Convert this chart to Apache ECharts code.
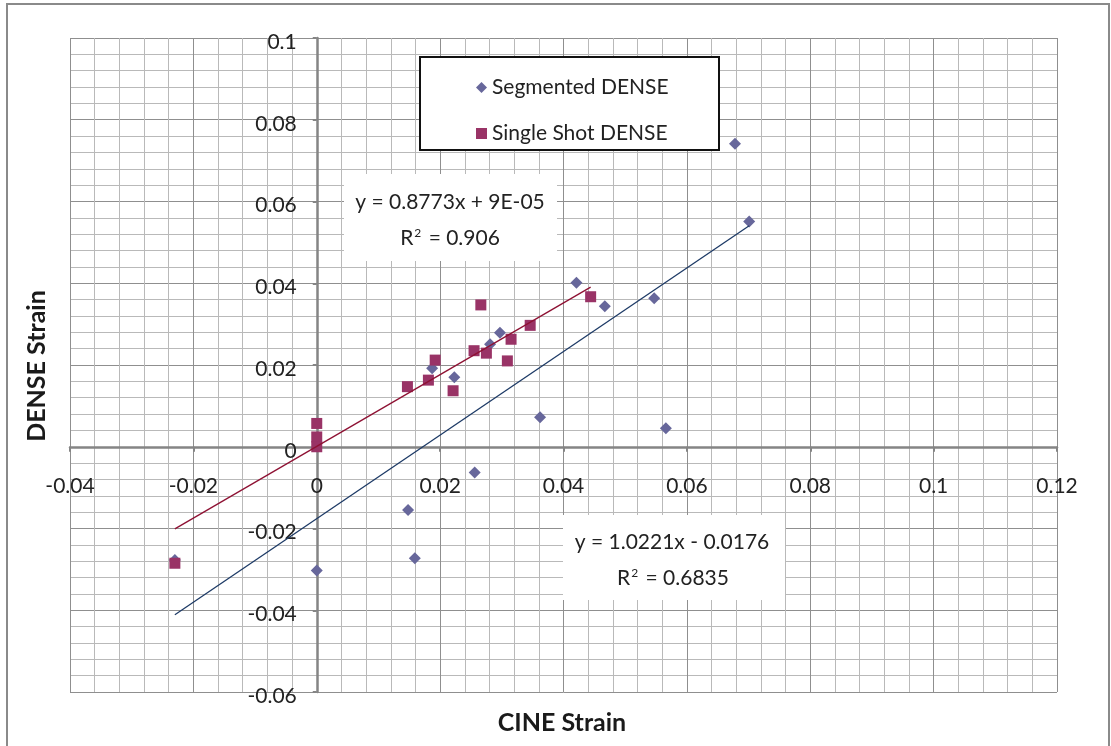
<!DOCTYPE html>
<html>
<head>
<meta charset="utf-8">
<script src="https://cdn.jsdelivr.net/npm/echarts@6/dist/echarts.min.js"></script>
<style>
  html, body { margin: 0; padding: 0; background: #ffffff; }
  #chart { width: 1111px; height: 746px; }
</style>
</head>
<body>
<div id="chart"></div>
<script>
// CINE strain (x) vs DENSE strain (y) for the two DENSE acquisitions
const segmentedCine  = [0.0678, 0.0701, 0.0421, 0.0467, 0.0547, 0.0362, 0.0566, 0.0256, 0.0297, 0.0281, 0.0223, 0.0187, 0.0148, 0.0159, 0.0000, -0.0230];
const segmentedDense = [0.0741, 0.0551, 0.0401, 0.0344, 0.0363, 0.0072, 0.0045, -0.0063, 0.0279, 0.0251, 0.0170, 0.0192, -0.0155, -0.0273, -0.0303, -0.0277];

const singleShotCine  = [-0.0230, 0.0000, 0.0000, 0.0000, 0.0147, 0.0181, 0.0192, 0.0221, 0.0255, 0.0266, 0.0275, 0.0315, 0.0309, 0.0346, 0.0444];
const singleShotDense = [-0.0285, 0.0057, 0.0024, 0.0000, 0.0147, 0.0163, 0.0212, 0.0137, 0.0235, 0.0347, 0.0229, 0.0263, 0.0210, 0.0297, 0.0367];

const seriesNames = ['Segmented DENSE', 'Single Shot DENSE'];

// Linear trendlines (slope, intercept) and their printed equations
const fitSlopes     = [1.0221, 0.8773];
const fitIntercepts = [-0.0176, 0.00009];
const fitEquations  = ['y = 1.0221x - 0.0176', 'y = 0.8773x + 9E-05'];
const fitR2         = ['0.6835', '0.906'];

// Axis ranges and tick step
const xMin = -0.04, xMax = 0.12;
const yMin = -0.06, yMax = 0.1;
const tickStep = 0.02;

const axisTitles = { x: 'CINE Strain', y: 'DENSE Strain' };

const FONT = 'Lato, "Liberation Sans", sans-serif';
const colors = { segmented: '#67679b', singleShot: '#993366', segFit: '#1d3a66', shotFit: '#8e1133' };

// plot area box
const W = 1111, H = 746;
const plot = { left: 70, right: 54, top: 38, bottom: 54 };
const plotW = W - plot.left - plot.right;
const plotH = H - plot.top - plot.bottom;
// the axes cross at the origin: shift each axis from the plot edge onto zero
const yAxisShift = plotW * (0 - xMin) / (xMax - xMin);
const xAxisShift = plotH * (0 - yMin) / (yMax - yMin);

function pairs(xs, ys) { return xs.map((x, i) => [x, ys[i]]); }
function fitLine(xs, k) {
  const lo = Math.min(...xs), hi = Math.max(...xs);
  return [[lo, fitSlopes[k] * lo + fitIntercepts[k]], [hi, fitSlopes[k] * hi + fitIntercepts[k]]];
}
const fmt = v => String(+v.toFixed(2));

const chart = echarts.init(document.getElementById('chart'), null, { renderer: 'canvas' });

const gridLine  = { color: '#8f8f8f', width: 1 };
const minorLine = { color: '#b9b9b9', width: 1 };
const axisColor = '#858585';

const option = {
  animation: false,
  backgroundColor: '#ffffff',
  grid: { left: plot.left, right: plot.right, top: plot.top, bottom: plot.bottom, containLabel: false },
  xAxis: {
    type: 'value', min: xMin, max: xMax, interval: tickStep,
    position: 'bottom', offset: -xAxisShift,
    axisLine: { show: true, onZero: false, lineStyle: { color: axisColor, width: 2.5 } },
    axisTick: { show: true, length: 5, lineStyle: { color: axisColor, width: 2 } },
    axisLabel: { margin: 29, fontSize: 21, fontFamily: FONT, color: '#222', formatter: fmt, showMinLabel: true, showMaxLabel: true },
    splitLine: { show: true, lineStyle: gridLine },
    minorTick: { show: false, splitNumber: 5 },
    minorSplitLine: { show: true, lineStyle: minorLine }
  },
  yAxis: {
    type: 'value', min: yMin, max: yMax, interval: tickStep,
    position: 'left', offset: -yAxisShift,
    axisLine: { show: true, onZero: false, lineStyle: { color: axisColor, width: 2.5 } },
    axisTick: { show: true, length: 4, lineStyle: { color: axisColor, width: 2 } },
    axisLabel: { margin: 20, fontSize: 21, fontFamily: FONT, color: '#222', formatter: fmt,
      verticalAlign: 'top', lineHeight: 8, showMinLabel: true, showMaxLabel: true },
    splitLine: { show: true, lineStyle: gridLine },
    minorTick: { show: false, splitNumber: 5 },
    minorSplitLine: { show: true, lineStyle: minorLine }
  },
  legend: {
    data: seriesNames,
    orient: 'vertical',
    left: 471, top: 72,
    itemGap: 25, itemWidth: 11, itemHeight: 11,
    textStyle: { fontSize: 21, fontFamily: FONT, color: '#222' },
    z: 6
  },
  series: [
    {
      name: seriesNames[0], type: 'scatter', symbol: 'diamond', symbolSize: 12,
      itemStyle: { color: colors.segmented, opacity: 1 },
      data: pairs(segmentedCine, segmentedDense), z: 3
    },
    {
      name: seriesNames[1], type: 'scatter', symbol: 'rect', symbolSize: 11,
      itemStyle: { color: colors.singleShot, opacity: 1 },
      data: pairs(singleShotCine, singleShotDense), z: 3
    },
    {
      name: 'Segmented fit', type: 'line', symbol: 'none', silent: true,
      lineStyle: { color: colors.segFit, width: 1.3 },
      data: fitLine(segmentedCine, 0), z: 4
    },
    {
      name: 'Single Shot fit', type: 'line', symbol: 'none', silent: true,
      lineStyle: { color: colors.shotFit, width: 1.3 },
      data: fitLine(singleShotCine, 1), z: 4
    }
  ],
  graphic: [
    // chart frame
    { type: 'rect', silent: true, z: 1, shape: { x: 7, y: 4, width: 1102, height: 760 },
      style: { fill: 'none', stroke: '#8a8a8a', lineWidth: 2 } },
    // legend frame
    { type: 'rect', silent: true, z: 5, shape: { x: 420, y: 57, width: 299, height: 93 },
      style: { fill: '#ffffff', stroke: '#111111', lineWidth: 2 } },
    // single shot fit equation
    { type: 'rect', silent: true, z: 5, shape: { x: 344, y: 174, width: 213, height: 87 },
      style: { fill: '#ffffff' } },
    { type: 'text', silent: true, z: 6, x: 450, y: 202,
      style: { text: fitEquations[1], font: '21px ' + FONT, fill: '#222', textAlign: 'center', textVerticalAlign: 'middle' } },
    { type: 'text', silent: true, z: 6, x: 450, y: 238,
      style: { text: 'R{sup|2} = ' + fitR2[1], font: '21px ' + FONT, fill: '#222', textAlign: 'center', textVerticalAlign: 'middle',
        rich: { sup: { fontSize: 12, fontFamily: FONT, fill: '#222', verticalAlign: 'top', padding: [0, 2, 10, 1] } } } },
    // segmented fit equation
    { type: 'rect', silent: true, z: 5, shape: { x: 563, y: 515, width: 222, height: 85 },
      style: { fill: '#ffffff' } },
    { type: 'text', silent: true, z: 6, x: 672, y: 542,
      style: { text: fitEquations[0], font: '21px ' + FONT, fill: '#222', textAlign: 'center', textVerticalAlign: 'middle' } },
    { type: 'text', silent: true, z: 6, x: 673, y: 578,
      style: { text: 'R{sup|2} = ' + fitR2[0], font: '21px ' + FONT, fill: '#222', textAlign: 'center', textVerticalAlign: 'middle',
        rich: { sup: { fontSize: 12, fontFamily: FONT, fill: '#222', verticalAlign: 'top', padding: [0, 2, 10, 1] } } } },
    // axis titles
    { type: 'text', silent: true, z: 6, x: 562, y: 723,
      style: { text: axisTitles.x, font: 'bold 25px ' + FONT, fill: '#1a1a1a', textAlign: 'center', textVerticalAlign: 'middle' } },
    { type: 'text', silent: true, z: 6, x: 37, y: 366, rotation: Math.PI / 2,
      style: { text: axisTitles.y, font: 'bold 25px ' + FONT, fill: '#1a1a1a', textAlign: 'center', textVerticalAlign: 'middle' } }
  ]
};

chart.setOption(option);
</script>
</body>
</html>
